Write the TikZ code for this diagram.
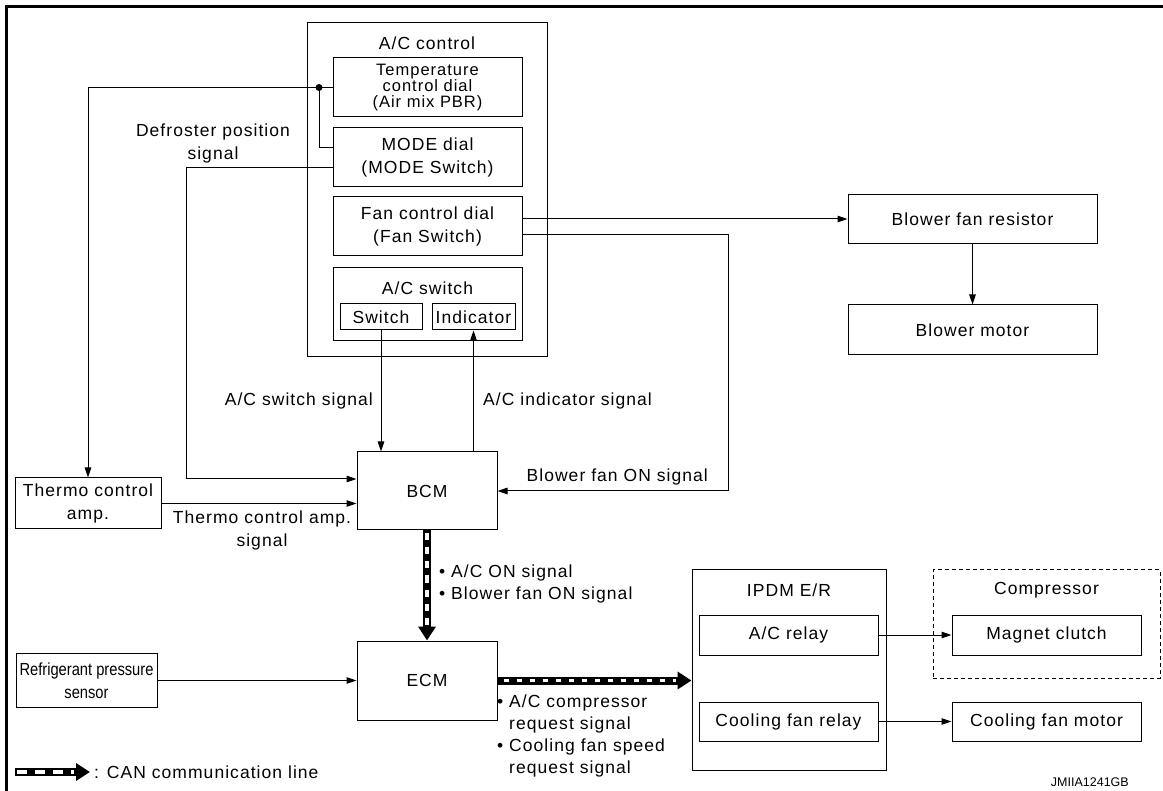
\documentclass[tikz,border=0pt]{standalone}
\usepackage{fontspec}
\setmainfont{Liberation Sans}
\newfontfamily\acwide[LetterSpace=6]{Liberation Sans}
\newfontfamily\acnarrow[FakeStretch=0.84]{Liberation Sans}
\newfontfamily\acplain{Liberation Sans}
\usetikzlibrary{arrows.meta}
\newcommand\acwf{\acwide\fontsize{17.5}{23}\selectfont}
\begin{document}
\begin{tikzpicture}[x=1pt,y=-1pt,
  box/.style={draw, line width=1pt, inner sep=0pt, align=center, font=\acwf},
  ln/.style={line width=1pt},
  arr/.style={line width=1pt, -{Triangle[length=10pt,width=6.5pt]}},
  lbl/.style={inner sep=0pt, align=center, font=\acwf},
  canblack/.style={line width=8pt, -{Triangle[length=14pt,width=17pt]}},
  canwhite/.style={white, line width=3.5pt},
]
\useasboundingbox (0,0) rectangle (1163,791);
% frame
\draw[line width=3.5pt] (6.5,791) -- (6.5,6.5) -- (1163,6.5);

% A/C control
\node[box, minimum width=240pt, minimum height=334pt] (acc) at (427,190) {};
\node[lbl] (acct) at (427,43) {A/C control};
\node[box, minimum width=189pt, minimum height=59pt, font={\acwide\fontsize{16.5}{16}\selectfont}] (temp) at (427.5,87.5) {Temperature\\control dial\\(Air mix PBR)};
\node[box, minimum width=189pt, minimum height=59pt] (mode) at (427.5,157.5) {MODE dial\\(MODE Switch)};
\node[box, minimum width=189pt, minimum height=59pt] (fan) at (427.5,226.5) {Fan control dial\\(Fan Switch)};
\node[box, minimum width=189pt, minimum height=73pt] (acsw) at (427.5,304.5) {};
\node[lbl] (acst) at (427.5,288) {A/C switch};
\node[box, minimum width=82pt, minimum height=26pt] (sw) at (381,317) {Switch};
\node[box, minimum width=83pt, minimum height=26pt] (ind) at (473.5,317) {Indicator};

% blower
\node[box, minimum width=249pt, minimum height=49pt] (bfr) at (972.5,219) {Blower fan resistor};
\node[box, minimum width=249pt, minimum height=50pt] (bm) at (972.5,330) {Blower motor};

% BCM etc
\node[box, minimum width=140pt, minimum height=78pt] (bcm) at (427,491) {BCM};
\node[box, minimum width=146pt, minimum height=51pt] (tca) at (88,503.5) {Thermo control\\amp.};
\node[box, minimum width=140pt, minimum height=79pt] (ecm) at (427,680.5) {ECM};
\node[box, minimum width=141pt, minimum height=54pt, font={\acnarrow\fontsize{17.5}{23}\selectfont}] (rps) at (86.5,680.5) {Refrigerant pressure\\sensor};

% IPDM / compressor
\node[box, minimum width=194pt, minimum height=200pt] (ipdm) at (789,670) {};
\node[lbl] (ipdmt) at (789,590) {IPDM E/R};
\node[box, minimum width=179pt, minimum height=40pt] (acr) at (788.5,635) {A/C relay};
\node[box, minimum width=179pt, minimum height=39pt] (cfr) at (788.5,721.5) {Cooling fan relay};
\node[box, dashed, dash pattern=on 4pt off 3pt, minimum width=227pt, minimum height=108pt] (comp) at (1046.5,624) {};
\node[lbl] (compt) at (1046.5,590) {Compressor};
\node[box, minimum width=189pt, minimum height=40pt] (mc) at (1046.5,635) {Magnet clutch};
\node[box, minimum width=189pt, minimum height=39pt] (cfm) at (1046.5,721.5) {Cooling fan motor};

% labels
\node[lbl] (defl) at (213,143.5) {Defroster position\\signal};
\node[lbl] (tcal) at (262,530) {Thermo control amp.\\signal};
\node[lbl, anchor=east] (swl) at (373,401) {A/C switch signal};
\node[lbl, anchor=west] (indl) at (483,401) {A/C indicator signal};
\node[lbl, anchor=east] (bfl) at (708,477) {Blower fan ON signal};
\node[lbl, anchor=west, align=left, font={\acwide\fontsize{17.5}{22}\selectfont}] (canl1) at (439,584) {• A/C ON signal\\• Blower fan ON signal};
\node[lbl, anchor=west, align=left, font={\acwide\fontsize{17.5}{22}\selectfont}] (canl2) at (497,736) {• A/C compressor\\\hphantom{• }request signal\\• Cooling fan speed\\\hphantom{• }request signal};
\node[lbl, anchor=west] (lgt) at (94,772) {: CAN communication line};
\node[anchor=east, inner sep=0pt, font=\acplain\fontsize{12.5}{14}\selectfont] (code) at (1129,782) {JMIIA1241GB};

% connectors
\coordinate (dot) at (319,87.5);
\draw[arr] (temp.west) -| (tca.north);
\fill (dot) circle (3.5pt);
\draw[ln] (dot) |- ([yshift=9.5pt]mode.west);
\draw[arr] ([yshift=-10.5pt]mode.west) -| ([xshift=-170pt,yshift=12pt]bcm.west) -- ([yshift=12pt]bcm.west);
\draw[arr] (tca.east) -- (tca.east -| bcm.west);
\draw[arr] ([yshift=7.5pt]fan.east) -- (bfr.west);
\draw[arr] ([yshift=-8.5pt]fan.east) -| ([xshift=231pt]bcm.east) -- (bcm.east);
\draw[arr] (bfr.south) -- (bm.north);
\draw[arr] (sw.south) -- (sw.south |- bcm.north);
\draw[arr] (ind.south |- bcm.north) -- (ind.south);
\draw[arr] (rps.east) -- (rps.east -| ecm.west);
\draw[arr] (acr.east) -- (mc.west);
\draw[arr] (cfr.east) -- (cfm.west);

% CAN lines
\draw[canblack] (bcm.south) -- (ecm.north);
\draw[canwhite, dash pattern=on 7pt off 7pt, shorten <=3pt, shorten >=16pt] (bcm.south) -- (ecm.north);
\draw[canblack] (ecm.east) -- (ecm.east -| ipdm.west);
\draw[canwhite, dash pattern=on 5pt off 8pt, shorten <=6pt, shorten >=16pt] (ecm.east) -- (ecm.east -| ipdm.west);
\coordinate (lga) at (15,772);
\coordinate (lgb) at (90,772);
\draw[canblack] (lga) -- (lgb);
\draw[canwhite, dash pattern=on 10pt off 8pt, shorten <=1.5pt, shorten >=16pt] (lga) -- (lgb);
\end{tikzpicture}
\end{document}
